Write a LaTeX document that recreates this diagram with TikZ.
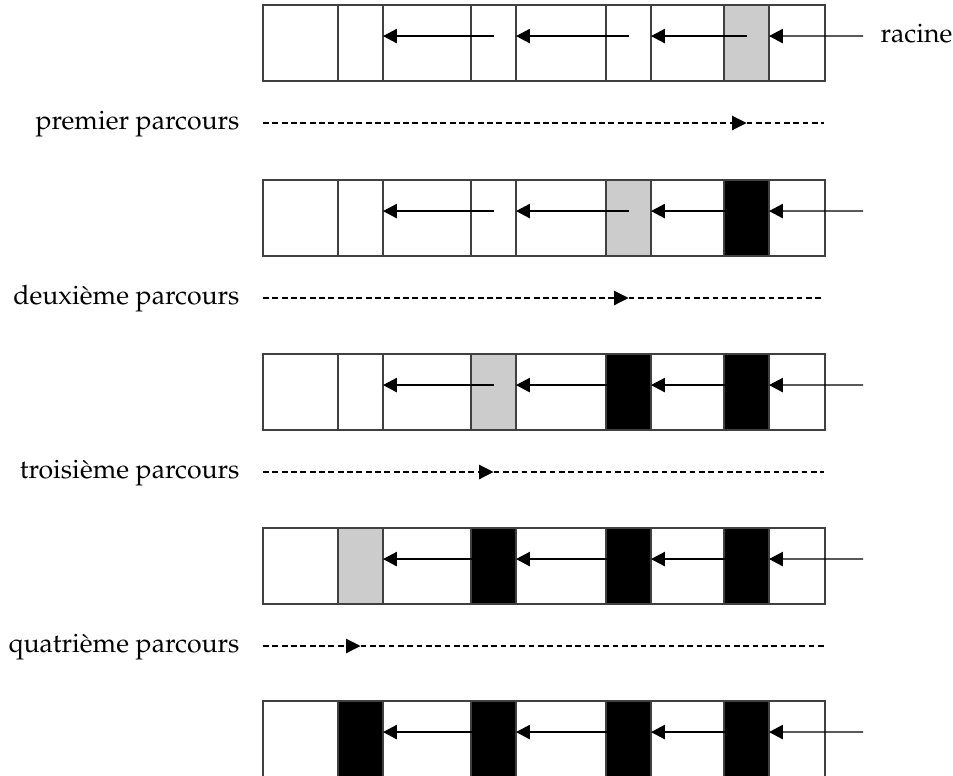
\documentclass[tikz,border=0pt]{standalone}
\usepackage[T1]{fontenc}
\usepackage{mathpazo}
\usetikzlibrary{arrows.meta}
\definecolor{marked}{gray}{0.8}

\begin{document}
\begin{tikzpicture}[
  x=0.375pt, y=-0.375pt,
  font=\normalsize,
  row/.style={draw=black!75, line width=0.45pt},
  cell/.style={draw=black!75, line width=0.45pt, minimum width=16.9pt, minimum height=28.5pt, inner sep=0pt, outer sep=0pt},
  ptr/.style={-{Triangle[length=5.2pt, width=5.4pt]}, line width=0.45pt},
  trav/.style={dash pattern=on 2.2pt off 1.3pt, line width=0.4pt},
  lab/.style={inner sep=0pt}
]
\useasboundingbox (0,0) rectangle (953,775);

% memory rows: blocks with their header cells
\foreach \r/\top/\fa/\fb/\fc/\fd in {1/5/white/white/white/marked, 2/180/white/white/marked/black,
    3/354/white/marked/black/black, 4/528/marked/black/black/black, 5/701/black/black/black/black} {
  \draw[row] (263,\top) rectangle (825,\top+76);
  \node[cell, fill=\fa] (c\r-1) at (360.5,\top+38) {};
  \node[cell, fill=\fb] (c\r-2) at (493.5,\top+38) {};
  \node[cell, fill=\fc] (c\r-3) at (628.5,\top+38) {};
  \node[cell, fill=\fd] (c\r-4) at (746.5,\top+38) {};
  \coordinate (root\r) at (863,\top+31);
  % pointers
  \draw[ptr] ([yshift=2.6pt]c\r-2.center) -- ([yshift=2.6pt]c\r-1.east);
  \draw[ptr] ([yshift=2.6pt]c\r-3.center) -- ([yshift=2.6pt]c\r-2.east);
  \draw[ptr] ([yshift=2.6pt]c\r-4.center) -- ([yshift=2.6pt]c\r-3.east);
  \draw[ptr] (root\r) -- ([yshift=2.6pt]c\r-4.east);
}
\node[lab, anchor=mid west] (racine) at (880,36) {racine};

% traversals
\foreach \r/\top/\k/\txt in {1/5/4/premier, 2/180/3/deuxi\`eme, 3/354/2/troisi\`eme, 4/528/1/quatri\`eme} {
  \coordinate (ts\r) at (263,\top+118);
  \coordinate (te\r) at (824,\top+118);
  \node[lab, anchor=mid east] (lab\r) at (240,\top+118) {\txt{} parcours};
  \draw[trav, -{Triangle[length=5.4pt, width=5.4pt]}] (ts\r) -- (c\r-\k.center |- ts\r);
  \draw[trav] (c\r-\k.center |- ts\r) -- (te\r);
}
\end{tikzpicture}
\end{document}
